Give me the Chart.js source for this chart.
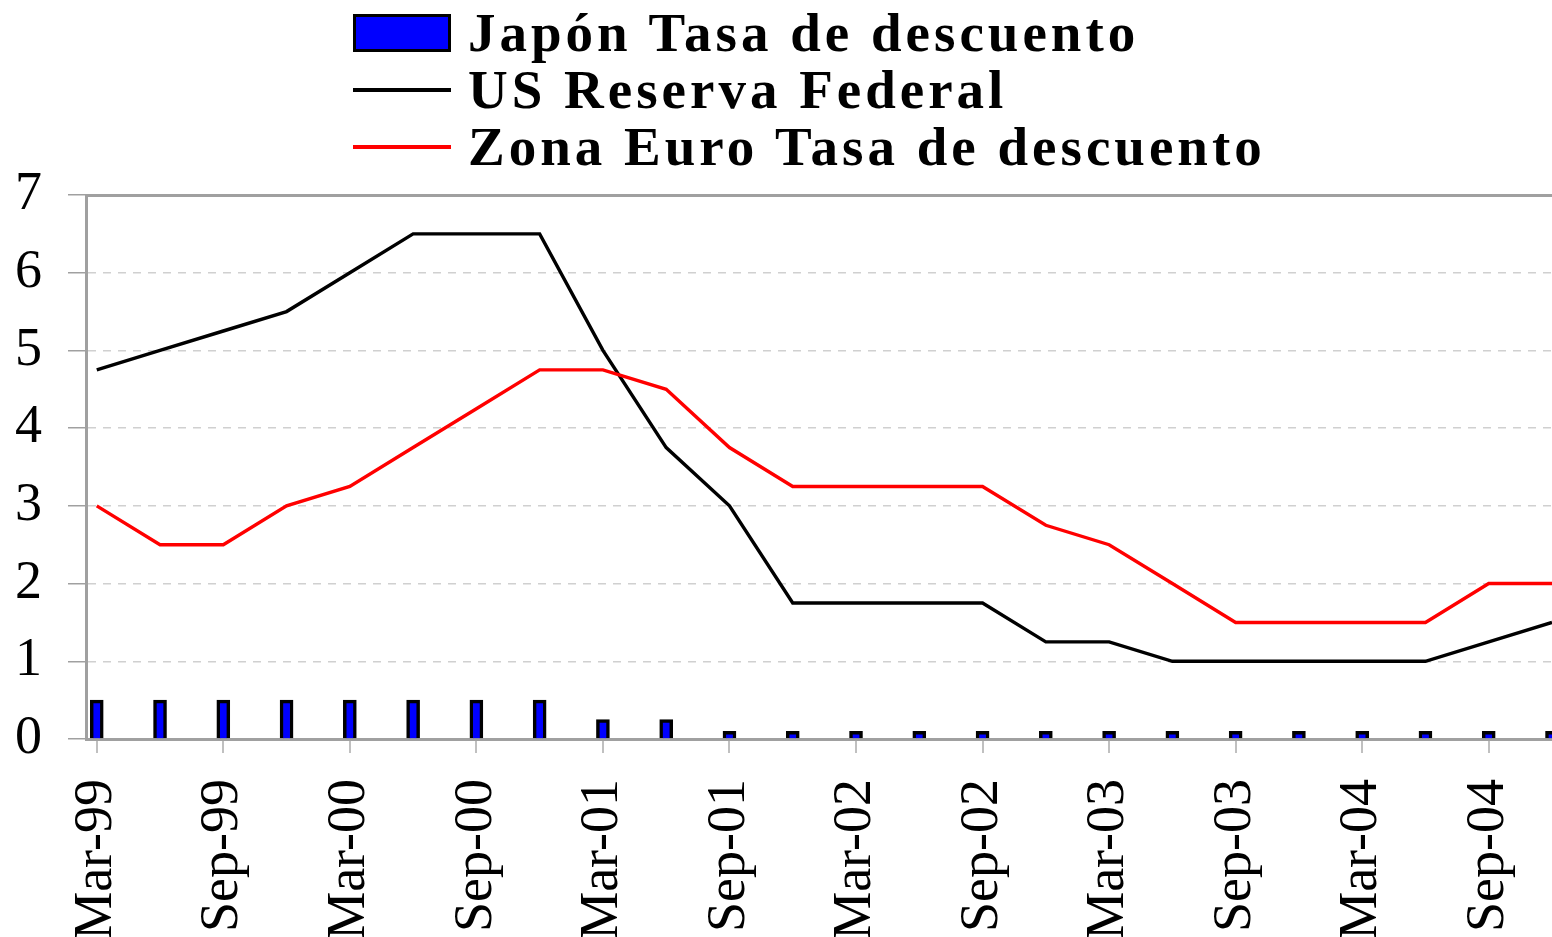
<!DOCTYPE html>
<html>
<head>
<meta charset="utf-8">
<title>Tasas de descuento</title>
<script src="https://cdn.jsdelivr.net/npm/chart.js@4/dist/chart.umd.min.js"></script>
<style>
  body { margin: 0; background: #fff; }
  #wrap { position: relative; width: 1552px; height: 937px; overflow: hidden; }
  #legend {
    position: absolute; left: 353px; top: 4px;
    font-family: "Liberation Serif", "Times New Roman", serif;
    font-weight: bold; font-size: 55px; letter-spacing: 4px; color: #000;
  }
  .row { height: 57px; display: flex; align-items: center; white-space: nowrap; }
  .swatch { width: 98px; margin-right: 17px; box-sizing: border-box; }
</style>
</head>
<body>
<div id="wrap">
  <canvas id="ratesChart"></canvas>
  <div id="legend"></div>
</div>
<script>
/* =========================
   DATA
========================= */

const quarters = [
    "Mar-99", "Jun-99", "Sep-99", "Dec-99",
    "Mar-00", "Jun-00", "Sep-00", "Dec-00",
    "Mar-01", "Jun-01", "Sep-01", "Dec-01",
    "Mar-02", "Jun-02", "Sep-02", "Dec-02",
    "Mar-03", "Jun-03", "Sep-03", "Dec-03",
    "Mar-04", "Jun-04", "Sep-04", "Dec-04"
];

const tickLabels = [
    "Mar-99", "Sep-99", "Mar-00", "Sep-00", "Mar-01", "Sep-01",
    "Mar-02", "Sep-02", "Mar-03", "Sep-03", "Mar-04", "Sep-04"
];

const yTicks = [0, 1, 2, 3, 4, 5, 6, 7];

const japanRate = [
    0.5, 0.5, 0.5, 0.5, 0.5, 0.5, 0.5, 0.5,
    0.25, 0.25, 0.1, 0.1, 0.1, 0.1, 0.1, 0.1,
    0.1, 0.1, 0.1, 0.1, 0.1, 0.1, 0.1, 0.1
];

const usFedRate = [
    4.75, 5.0, 5.25, 5.5, 6.0, 6.5, 6.5, 6.5,
    5.0, 3.75, 3.0, 1.75, 1.75, 1.75, 1.75, 1.25,
    1.25, 1.0, 1.0, 1.0, 1.0, 1.0, 1.25, 1.5
];

const euroRate = [
    3.0, 2.5, 2.5, 3.0, 3.25, 3.75, 4.25, 4.75,
    4.75, 4.5, 3.75, 3.25, 3.25, 3.25, 3.25, 2.75,
    2.5, 2.0, 1.5, 1.5, 1.5, 1.5, 2.0, 2.0
];

const seriesNames = [
    "Japón Tasa de descuento",
    "US Reserva Federal",
    "Zona Euro Tasa de descuento"
];


/* =========================
   CHART
========================= */

const AXIS_GRAY = "#a0a0a0";
const FONT = "'Liberation Serif', 'Times New Roman', serif";

function toPoints(values) {
    return values.map((v, i) => ({ x: i, y: v }));
}

document.addEventListener("DOMContentLoaded", () => {
    renderRatesChart();
    renderLegend();
});

function renderRatesChart() {
    const ctx = document.getElementById("ratesChart");

    new Chart(ctx, {
        data: {
            datasets: [{
                type: "bar",
                label: seriesNames[0],
                data: toPoints(japanRate),
                backgroundColor: "#0000ff",
                borderColor: "#000",
                borderWidth: 3.5,
                barThickness: 13,
                order: 3
            }, {
                type: "line",
                label: seriesNames[1],
                data: toPoints(usFedRate),
                borderColor: "#000",
                borderWidth: 3.4,
                pointRadius: 0,
                tension: 0,
                order: 2
            }, {
                type: "line",
                label: seriesNames[2],
                data: toPoints(euroRate),
                borderColor: "#ff0000",
                borderWidth: 3.4,
                pointRadius: 0,
                tension: 0,
                order: 1
            }]
        },
        options: {
            responsive: true,
            maintainAspectRatio: false,
            animation: false,
            layout: { padding: { top: 195, right: 0, left: 0, bottom: 0 } },
            plugins: {
                legend: { display: false },
                tooltip: { enabled: false }
            },
            scales: {
                x: {
                    type: "linear",
                    offset: false,
                    min: -0.17,
                    max: quarters.length - 1,
                    afterBuildTicks: scale => {
                        scale.ticks = tickLabels.map(l => ({ value: quarters.indexOf(l) }));
                    },
                    afterFit: scale => {
                        scale.height = 198;
                        scale.paddingRight = 0;
                        scale.paddingLeft = 0;
                    },
                    grid: {
                        offset: false,
                        drawOnChartArea: false,
                        drawTicks: true,
                        tickLength: 14,
                        color: "#c0c0c0",
                        lineWidth: 2
                    },
                    border: { color: AXIS_GRAY, width: 3 },
                    ticks: {
                        autoSkip: false,
                        minRotation: 90,
                        maxRotation: 90,
                        padding: 26,
                        color: "#000",
                        font: { family: FONT, size: 54 },
                        callback: value => quarters[value]
                    }
                },
                xTop: {
                    type: "linear",
                    position: "top",
                    offset: false,
                    grid: { display: false, drawTicks: false },
                    ticks: { display: false },
                    border: { color: AXIS_GRAY, width: 3 }
                },
                y: {
                    min: yTicks[0],
                    max: yTicks[yTicks.length - 1],
                    afterBuildTicks: scale => {
                        scale.ticks = yTicks.map(v => ({ value: v }));
                    },
                    afterFit: scale => { scale.width = 86; },
                    grid: {
                        color: c => (c.tick && (c.tick.value === 0 || c.tick.value === 7)) ? "rgba(0,0,0,0)" : "#d0d0d0",
                        lineWidth: 1.5,
                        tickColor: AXIS_GRAY,
                        tickLength: 18
                    },
                    border: { color: AXIS_GRAY, width: 3, dash: [8, 7] },
                    ticks: {
                        padding: 26,
                        color: "#000",
                        font: { family: FONT, size: 54 }
                    }
                }
            }
        }
    });
}


/* =========================
   LEGEND (one row per series)
========================= */

function renderLegend() {
    const box = document.getElementById("legend");
    const swatches = [
        "height:38px;background:#0000ff;border:3px solid #000;",
        "height:4px;background:#000;",
        "height:4px;background:#ff0000;"
    ];

    seriesNames.forEach((name, i) => {
        const row = document.createElement("div");
        row.className = "row";
        const sw = document.createElement("div");
        sw.className = "swatch";
        sw.style.cssText = swatches[i];
        const txt = document.createElement("span");
        txt.textContent = name;
        row.appendChild(sw);
        row.appendChild(txt);
        box.appendChild(row);
    });
}
</script>
</body>
</html>
